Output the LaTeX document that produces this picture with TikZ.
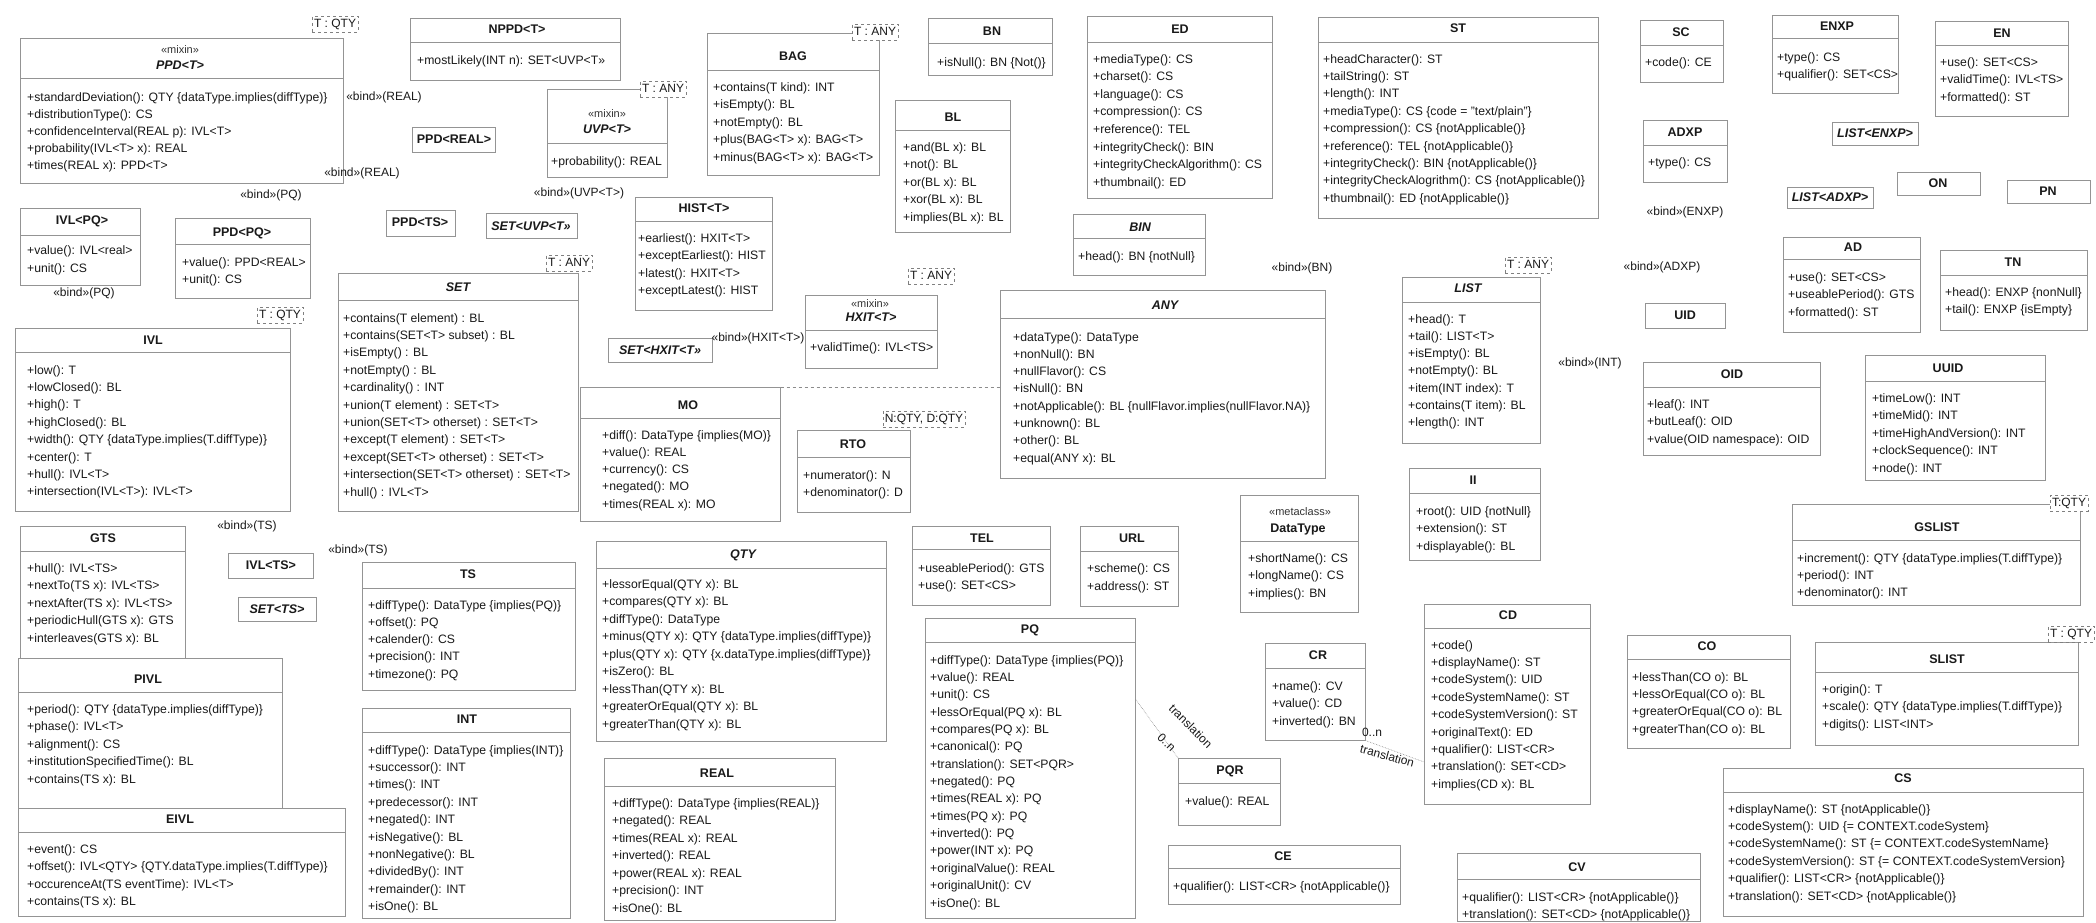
\documentclass[tikz,border=0pt]{standalone}
\usepackage{fontspec}
\setmainfont{Liberation Sans}
\usetikzlibrary{calc}
\tikzset{
 box/.style={draw=black!42, line width=0.6pt, inner sep=0pt},
 sepl/.style={draw=black!42, line width=0.6pt},
 ttl/.style={font=\bfseries\fontsize{12.5}{15}\selectfont, inner sep=0pt, text height=9pt, text depth=0pt, text=black!90},
 ttli/.style={ttl, font=\bfseries\itshape\fontsize{12.5}{15}\selectfont},
 stereo/.style={font=\fontsize{11}{13}\selectfont, inner sep=0pt, text height=8pt, text depth=0pt, text=black!80},
 methl/.style={font=\fontsize{12.2}{15}\selectfont, inner sep=0pt, anchor=base west, text=black!90},
 lbl/.style={font=\fontsize{12}{14}\selectfont, inner sep=0pt, text height=9pt, text depth=2.5pt, text=black!90},
 tparam/.style={lbl, draw=black!50, dashed, fill=white, inner sep=2pt},
 assoc/.style={draw=black!45, densely dotted, line width=0.6pt},
 gen/.style={draw=black!45, dashed, line width=0.6pt},
}
\newcommand\ubox[5]{\node[box, anchor=north west, minimum width={(#4-#2)*1pt}, minimum height={(#5-#3)*1pt}] (#1) at (#2,#3) {};}
\newcommand\usep[2]{\draw[sepl] (#1.west |- 0,#2) -- (#1.east |- 0,#2);}
\newcommand\utitle[5][ttl]{\node[#1] (#2t) at (#3,#4) {#5};}
% one node per member line: name, x, y of first line centre, line spacing, comma separated lines
\newcommand\umeth[5]{\foreach \ml [count=\mi from 0] in {#5} {\node[methl] (#1m\mi) at (#2,{#3+4+\mi*#4}) {\ml};}}
\begin{document}
\begin{tikzpicture}[x=1pt,y=-1pt]
\useasboundingbox (0,0) rectangle (2096,922);
\fill[white] (0,0) rectangle (2096,922);

% ---------- boxes ----------
\ubox{ppdT}{20}{38}{343}{183}\usep{ppdT}{78}
\ubox{nppd}{410}{18}{620}{80}\usep{nppd}{42}
\ubox{uvp}{547}{89}{667}{177}\usep{uvp}{143}
\ubox{ppdreal}{412}{127}{495}{152}
\ubox{ivlpq}{20}{208}{140}{285}\usep{ivlpq}{235}
\ubox{ppdpq}{175}{218}{310}{298}\usep{ppdpq}{244}
\ubox{ppdts}{386}{210}{455}{236}
\ubox{setuvp}{486}{213}{577}{238}
\ubox{set}{338}{273}{578}{511}\usep{set}{300}
\ubox{ivl}{15}{328}{290}{511}\usep{ivl}{352}
\ubox{gts}{20}{526}{185}{658}\usep{gts}{551}
\ubox{ivlts}{228}{553}{313}{578}
\ubox{setts}{238}{597}{316}{621}
\ubox{pivl}{18}{658}{282}{808}\usep{pivl}{692}
\ubox{eivl}{18}{808}{345}{916}\usep{eivl}{832}
\ubox{ts}{362}{562}{575}{690}\usep{ts}{588}
\ubox{int}{362}{708}{570}{918}\usep{int}{732}
\ubox{hist}{635}{197}{772}{310}\usep{hist}{221}
\ubox{bag}{707}{33}{879}{175}\usep{bag}{70}
\ubox{sethxit}{608}{338}{712}{362}
\ubox{hxit}{805}{295}{937}{368}\usep{hxit}{330}
\ubox{mo}{580}{387}{780}{521}\usep{mo}{418}
\ubox{rto}{797}{430}{910}{512}\usep{rto}{457}
\ubox{qty}{596}{541}{886}{741}\usep{qty}{568}
\ubox{real}{604}{758}{835}{920}\usep{real}{786}
\ubox{bn}{928}{18}{1052}{75}\usep{bn}{43}
\ubox{bl}{895}{100}{1010}{232}\usep{bl}{130}
\ubox{ed}{1087}{16}{1272}{198}\usep{ed}{42}
\ubox{bin}{1073}{214}{1205}{275}\usep{bin}{238}
\ubox{any}{1000}{290}{1325}{478}\usep{any}{318}
\ubox{st}{1318}{17}{1598}{218}\usep{st}{42}
\ubox{list}{1402}{277}{1540}{443}\usep{list}{302}
\ubox{sc}{1640}{20}{1723}{82}\usep{sc}{45}
\ubox{enxp}{1772}{15}{1898}{93}\usep{enxp}{38}
\ubox{en}{1935}{21}{2068}{116}\usep{en}{45}
\ubox{adxp}{1643}{120}{1727}{182}\usep{adxp}{145}
\ubox{listenxp}{1832}{122}{1918}{145}
\ubox{listadxp}{1787}{187}{1873}{208}
\ubox{on}{1897}{172}{1980}{195}
\ubox{pn}{2007}{180}{2090}{203}
\ubox{ad}{1783}{237}{1920}{332}\usep{ad}{259}
\ubox{tn}{1940}{250}{2087}{330}\usep{tn}{275}
\ubox{uid}{1645}{303}{1725}{328}
\ubox{oid}{1643}{362}{1820}{455}\usep{oid}{387}
\ubox{uuid}{1865}{355}{2045}{480}\usep{uuid}{381}
\ubox{ii}{1409}{468}{1540}{560}\usep{ii}{493}
\ubox{dt}{1240}{495}{1358}{612}\usep{dt}{541}
\ubox{tel}{912}{526}{1050}{605}\usep{tel}{549}
\ubox{url}{1080}{526}{1178}{606}\usep{url}{551}
\ubox{pq}{925}{618}{1135}{918}\usep{pq}{642}
\ubox{cr}{1265}{643}{1365}{740}\usep{cr}{668}
\ubox{cd}{1424}{604}{1590}{804}\usep{cd}{628}
\ubox{pqr}{1178}{758}{1280}{825}\usep{pqr}{783}
\ubox{ce}{1168}{845}{1400}{904}\usep{ce}{868}
\ubox{cv}{1457}{853}{1700}{921}\usep{cv}{879}
\ubox{co}{1627}{635}{1790}{748}\usep{co}{659}
\ubox{gslist}{1792}{504}{2080}{605}\usep{gslist}{540}
\ubox{slist}{1815}{642}{2078}{745}\usep{slist}{672}
\ubox{cs}{1723}{768}{2083}{916}\usep{cs}{792}

% ---------- connectors ----------
\draw[gen] (mo.north east) -- (mo.north east -| any.west);
\draw[assoc] ($(pq.north east)!0.27!(pq.south east)$) -- (pqr.north west);
\draw[assoc] (cr.south east) -- (cd.west |- 0,762);

% ---------- template parameters ----------
\node[tparam] (ppdTp) at (335,24) {T : QTY};
\node[tparam] (uvpp) at (663,89) {T : ANY};
\node[tparam] (setp) at (569,263) {T : ANY};
\node[tparam] (ivlp) at (280,315) {T : QTY};
\node[tparam] (bagp) at (875,32) {T : ANY};
\node[tparam] (hxitp) at (931,276) {T : ANY};
\node[tparam] (rtop) at (924,419) {N:QTY, D:QTY};
\node[tparam] (listp) at (1528,265) {T : ANY};
\node[tparam] (gslistp) at (2069,503) {T:QTY};
\node[tparam] (slistp) at (2071,634) {T : QTY};

% ---------- bind labels ----------
\node[lbl] (b1) at (384,97) {«bind»(REAL)};
\node[lbl] (b2) at (362,173) {«bind»(REAL)};
\node[lbl] (b3) at (271,195) {«bind»(PQ)};
\node[lbl] (b4) at (84,293) {«bind»(PQ)};
\node[lbl] (b5) at (579,193) {«bind»(UVP<T>)};
\node[lbl] (b6) at (247,526) {«bind»(TS)};
\node[lbl] (b7) at (358,550) {«bind»(TS)};
\node[lbl] (b8) at (758,338) {«bind»(HXIT<T>)};
\node[lbl] (b9) at (1302,268) {«bind»(BN)};
\node[lbl] (b10) at (1685,212) {«bind»(ENXP)};
\node[lbl] (b11) at (1662,267) {«bind»(ADXP)};
\node[lbl] (b12) at (1590,363) {«bind»(INT)};
\node[lbl, rotate=-45] (pql1) at (1190,727) {translation};
\node[lbl, rotate=-45] (pql2) at (1166,743) {0..n};
\node[lbl] (crl1) at (1372,733) {0..n};
\node[lbl, rotate=-15] (crl2) at (1387,757) {translation};

% ---------- titles, stereotypes, members ----------
\node[stereo] (ppdTs) at (180,49) {«mixin»};
\utitle[ttli]{ppdT}{180}{65}{PPD<T>}
\umeth{ppdT}{27}{97}{17}{+standardDeviation(): QTY \{dataType.implies(diffType)\}, +distributionType(): CS, +confidenceInterval(REAL p): IVL<T>, +probability(IVL<T> x): REAL, +times(REAL x): PPD<T>}

\utitle{nppd}{517}{29}{NPPD<T>}
\umeth{nppd}{417}{60}{17}{+mostLikely(INT n): SET<UVP<T>>}

\node[stereo] (uvps) at (607,113) {«mixin»};
\utitle[ttli]{uvp}{607}{129}{UVP<T>}
\umeth{uvp}{551}{161}{17}{+probability(): REAL}

\utitle{ppdreal}{454}{139}{PPD<REAL>}

\utitle{ivlpq}{82}{220}{IVL<PQ>}
\umeth{ivlpq}{27}{250}{18}{+value(): IVL<real>, +unit(): CS}

\utitle{ppdpq}{242}{232}{PPD<PQ>}
\umeth{ppdpq}{182}{262}{17}{+value(): PPD<REAL>, +unit(): CS}

\utitle{ppdts}{420}{222}{PPD<TS>}
\utitle[ttli]{setuvp}{531}{226}{SET<UVP<T>>}

\utitle[ttli]{set}{458}{287}{SET}
\umeth{set}{343}{318}{17.4}{+contains(T element) : BL, +contains(SET<T> subset) : BL, +isEmpty() : BL, +notEmpty() : BL, +cardinality() : INT, +union(T element) : SET<T>, +union(SET<T> otherset) : SET<T>, +except(T element) : SET<T>, +except(SET<T> otherset) : SET<T>, +intersection(SET<T> otherset) : SET<T>, +hull() : IVL<T>}

\utitle{ivl}{153}{340}{IVL}
\umeth{ivl}{27}{370}{17.4}{+low(): T, +lowClosed(): BL, +high(): T, +highClosed(): BL, +width(): QTY \{dataType.implies(T.diffType)\}, +center(): T, +hull(): IVL<T>, +intersection(IVL<T>): IVL<T>}

\utitle{gts}{103}{538}{GTS}
\umeth{gts}{27}{568}{17.5}{+hull(): IVL<TS>, +nextTo(TS x): IVL<TS>, +nextAfter(TS x): IVL<TS>, +periodicHull(GTS x): GTS, +interleaves(GTS x): BL}

\utitle{ivlts}{271}{565}{IVL<TS>}
\utitle[ttli]{setts}{277}{609}{SET<TS>}

\utitle{pivl}{148}{679}{PIVL}
\umeth{pivl}{27}{709}{17.5}{+period(): QTY \{dataType.implies(diffType)\}, +phase(): IVL<T>, +alignment(): CS, +institutionSpecifiedTime(): BL, +contains(TS x): BL}

\utitle{eivl}{180}{819}{EIVL}
\umeth{eivl}{27}{849}{17.6}{+event(): CS, +offset(): IVL<QTY> \{QTY.dataType.implies(T.diffType)\}, +occurenceAt(TS eventTime): IVL<T>, +contains(TS x): BL}

\utitle{ts}{468}{574}{TS}
\umeth{ts}{368}{605}{17.3}{+diffType(): DataType \{implies(PQ)\}, +offset(): PQ, +calender(): CS, +precision(): INT, +timezone(): PQ}

\utitle{int}{467}{719}{INT}
\umeth{int}{368}{750}{17.4}{+diffType(): DataType \{implies(INT)\}, +successor(): INT, +times(): INT, +predecessor(): INT, +negated(): INT, +isNegative(): BL, +nonNegative(): BL, +dividedBy(): INT, +remainder(): INT, +isOne(): BL}

\utitle{hist}{704}{208}{HIST<T>}
\umeth{hist}{638}{238}{17.6}{+earliest(): HXIT<T>, +exceptEarliest(): HIST, +latest(): HXIT<T>, +exceptLatest(): HIST}

\utitle{bag}{793}{56}{BAG}
\umeth{bag}{713}{87}{17.5}{+contains(T kind): INT, +isEmpty(): BL, +notEmpty(): BL, +plus(BAG<T> x): BAG<T>, +minus(BAG<T> x): BAG<T>}

\utitle[ttli]{sethxit}{660}{350}{SET<HXIT<T>>}

\node[stereo] (hxits) at (870,303) {«mixin»};
\utitle[ttli]{hxit}{871}{317}{HXIT<T>}
\umeth{hxit}{810}{347}{17}{+validTime(): IVL<TS>}

\utitle{mo}{688}{405}{MO}
\umeth{mo}{602}{435}{17.3}{+diff(): DataType \{implies(MO)\}, +value(): REAL, +currency(): CS, +negated(): MO, +times(REAL x): MO}

\utitle{rto}{853}{444}{RTO}
\umeth{rto}{803}{475}{17}{+numerator(): N, +denominator(): D}

\utitle[ttli]{qty}{743}{554}{QTY}
\umeth{qty}{602}{584}{17.5}{+lessorEqual(QTY x): BL, +compares(QTY x): BL, +diffType(): DataType, +minus(QTY x): QTY \{dataType.implies(diffType)\}, +plus(QTY x): QTY \{x.dataType.implies(diffType)\}, +isZero(): BL, +lessThan(QTY x): BL, +greaterOrEqual(QTY x): BL, +greaterThan(QTY x): BL}

\utitle{real}{717}{773}{REAL}
\umeth{real}{612}{803}{17.5}{+diffType(): DataType \{implies(REAL)\}, +negated(): REAL, +times(REAL x): REAL, +inverted(): REAL, +power(REAL x): REAL, +precision(): INT, +isOne(): BL}

\utitle{bn}{992}{31}{BN}
\umeth{bn}{937}{62}{17}{+isNull(): BN \{Not()\}}

\utitle{bl}{953}{117}{BL}
\umeth{bl}{903}{147}{17.5}{+and(BL x): BL, +not(): BL, +or(BL x): BL, +xor(BL x): BL, +implies(BL x): BL}

\utitle{ed}{1180}{29}{ED}
\umeth{ed}{1093}{59}{17.6}{+mediaType(): CS, +charset(): CS, +language(): CS, +compression(): CS, +reference(): TEL, +integrityCheck(): BIN, +integrityCheckAlgorithm(): CS, +thumbnail(): ED}

\utitle[ttli]{bin}{1140}{227}{BIN}
\umeth{bin}{1078}{256}{17}{+head(): BN \{notNull\}}

\utitle[ttli]{any}{1165}{305}{ANY}
\umeth{any}{1013}{337}{17.3}{+dataType(): DataType, +nonNull(): BN, +nullFlavor(): CS, +isNull(): BN, +notApplicable(): BL \{nullFlavor.implies(nullFlavor.NA)\}, +unknown(): BL, +other(): BL, +equal(ANY x): BL}

\utitle{st}{1458}{28}{ST}
\umeth{st}{1323}{59}{17.4}{+headCharacter(): ST, +tailString(): ST, +length(): INT, +mediaType(): CS \{code = "text/plain"\}, +compression(): CS \{notApplicable()\}, +reference(): TEL \{notApplicable()\}, +integrityCheck(): BIN \{notApplicable()\}, +integrityCheckAlogrithm(): CS \{notApplicable()\}, +thumbnail(): ED \{notApplicable()\}}

\utitle[ttli]{list}{1468}{288}{LIST}
\umeth{list}{1408}{319}{17.3}{+head(): T, +tail(): LIST<T>, +isEmpty(): BL, +notEmpty(): BL, +item(INT index): T, +contains(T item): BL, +length(): INT}

\utitle{sc}{1681}{32}{SC}
\umeth{sc}{1645}{62}{17}{+code(): CE}

\utitle{enxp}{1837}{26}{ENXP}
\umeth{enxp}{1777}{57}{17}{+type(): CS, +qualifier(): SET<CS>}

\utitle{en}{2002}{33}{EN}
\umeth{en}{1940}{62}{17.5}{+use(): SET<CS>, +validTime(): IVL<TS>, +formatted(): ST}

\utitle{adxp}{1685}{132}{ADXP}
\umeth{adxp}{1648}{162}{17}{+type(): CS}

\utitle[ttli]{listenxp}{1875}{133}{LIST<ENXP>}
\utitle[ttli]{listadxp}{1830}{197}{LIST<ADXP>}
\utitle{on}{1938}{183}{ON}
\utitle{pn}{2048}{191}{PN}

\utitle{ad}{1853}{247}{AD}
\umeth{ad}{1788}{277}{17.5}{+use(): SET<CS>, +useablePeriod(): GTS, +formatted(): ST}

\utitle{tn}{2013}{262}{TN}
\umeth{tn}{1945}{292}{17}{+head(): ENXP \{nonNull\}, +tail(): ENXP \{isEmpty\}}

\utitle{uid}{1685}{315}{UID}

\utitle{oid}{1732}{374}{OID}
\umeth{oid}{1647}{404}{17.5}{+leaf(): INT, +butLeaf(): OID, +value(OID namespace): OID}

\utitle{uuid}{1948}{368}{UUID}
\umeth{uuid}{1872}{398}{17.5}{+timeLow(): INT, +timeMid(): INT, +timeHighAndVersion(): INT, +clockSequence(): INT, +node(): INT}

\utitle{ii}{1473}{480}{II}
\umeth{ii}{1416}{511}{17.5}{+root(): UID \{notNull\}, +extension(): ST, +displayable(): BL}

\node[stereo] (dts) at (1300,511) {«metaclass»};
\utitle{dt}{1298}{528}{DataType}
\umeth{dt}{1248}{558}{17.5}{+shortName(): CS, +longName(): CS, +implies(): BN}

\utitle{tel}{982}{538}{TEL}
\umeth{tel}{918}{568}{17}{+useablePeriod(): GTS, +use(): SET<CS>}

\utitle{url}{1132}{538}{URL}
\umeth{url}{1087}{568}{18}{+scheme(): CS, +address(): ST}

\utitle{pq}{1030}{629}{PQ}
\umeth{pq}{930}{660}{17.36}{+diffType(): DataType \{implies(PQ)\}, +value(): REAL, +unit(): CS, +lessOrEqual(PQ x): BL, +compares(PQ x): BL, +canonical(): PQ, +translation(): SET<PQR>, +negated(): PQ, +times(REAL x): PQ, +times(PQ x): PQ, +inverted(): PQ, +power(INT x): PQ, +originalValue(): REAL, +originalUnit(): CV, +isOne(): BL}

\utitle{cr}{1318}{655}{CR}
\umeth{cr}{1272}{686}{17.5}{+name(): CV, +value(): CD, +inverted(): BN}

\utitle{cd}{1508}{615}{CD}
\umeth{cd}{1431}{645}{17.4}{+code(), +displayName(): ST, +codeSystem(): UID, +codeSystemName(): ST, +codeSystemVersion(): ST, +originalText(): ED, +qualifier(): LIST<CR>, +translation(): SET<CD>, +implies(CD x): BL}

\utitle{pqr}{1230}{770}{PQR}
\umeth{pqr}{1185}{801}{17}{+value(): REAL}

\utitle{ce}{1283}{856}{CE}
\umeth{ce}{1173}{886}{17}{+qualifier(): LIST<CR> \{notApplicable()\}}

\utitle{cv}{1577}{867}{CV}
\umeth{cv}{1462}{897}{17}{+qualifier(): LIST<CR> \{notApplicable()\}, +translation(): SET<CD> \{notApplicable()\}}

\utitle{co}{1707}{646}{CO}
\umeth{co}{1632}{677}{17.4}{+lessThan(CO o): BL, +lessOrEqual(CO o): BL, +greaterOrEqual(CO o): BL, +greaterThan(CO o): BL}

\utitle{gslist}{1937}{527}{GSLIST}
\umeth{gslist}{1797}{558}{17}{+increment(): QTY \{dataType.implies(T.diffType)\}, +period(): INT, +denominator(): INT}

\utitle{slist}{1947}{659}{SLIST}
\umeth{slist}{1822}{689}{17.5}{+origin(): T, +scale(): QTY \{dataType.implies(T.diffType)\}, +digits(): LIST<INT>}

\utitle{cs}{1903}{778}{CS}
\umeth{cs}{1728}{809}{17.4}{+displayName(): ST \{notApplicable()\}, +codeSystem(): UID \{= CONTEXT.codeSystem\}, +codeSystemName(): ST \{= CONTEXT.codeSystemName\}, +codeSystemVersion(): ST \{= CONTEXT.codeSystemVersion\}, +qualifier(): LIST<CR> \{notApplicable()\}, +translation(): SET<CD> \{notApplicable()\}}
\end{tikzpicture}
\end{document}
